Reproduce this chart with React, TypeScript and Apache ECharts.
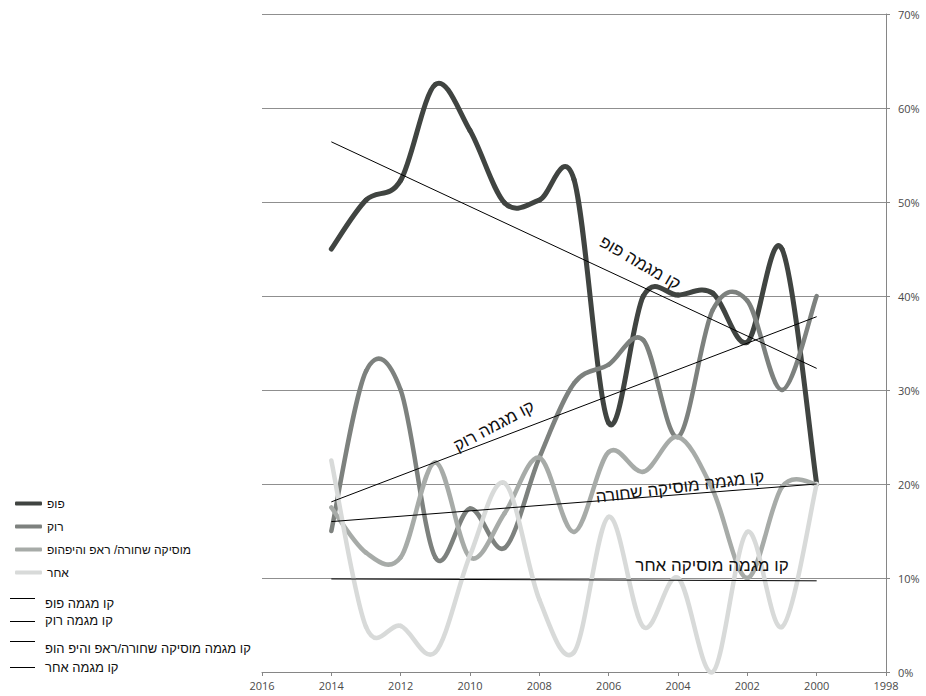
import React, { useEffect, useRef } from "react";
import * as echarts from "echarts";

const years = [2014, 2013, 2012, 2011, 2010, 2009, 2008, 2007, 2006, 2005, 2004, 2003, 2002, 2001, 2000];
const popValues = [45.0, 50.2, 52.3, 62.5, 57.6, 49.9, 50.2, 52.4, 26.5, 40.0, 40.1, 40.3, 35.1, 45.0, 20.0];
const rockValues = [15.0, 32.0, 30.0, 12.2, 17.4, 13.2, 22.8, 30.7, 32.7, 35.3, 25.0, 38.5, 39.5, 30.0, 40.0];
const blackValues = [17.5, 12.7, 12.2, 22.3, 12.2, 16.9, 22.8, 14.9, 23.4, 21.3, 25.0, 19.4, 10.0, 19.7, 20.0];
const otherValues = [22.5, 4.8, 4.9, 2.1, 12.4, 20.1, 7.7, 2.1, 16.5, 4.8, 10.0, 0.0, 14.9, 4.8, 20.0];

const trendYears = [2014, 2000];
const popTrend = [56.4, 32.3];
const rockTrend = [18.1, 37.8];
const blackTrend = [16.0, 20.0];
const otherTrend = [9.9, 9.7];

const seriesNames = ["פופ", "רוק", "מוסיקה שחורה/ ראפ והיפהופ", "אחר"];
const seriesColors = ["#404441", "#7d817e", "#a7aba8", "#d8dad9"];
const trendNames = ["קו מגמה פופ", "קו מגמה רוק", "קו מגמה מוסיקה שחורה/ראפ והיפ הופ", "קו מגמה אחר"];
const trendLabels = ["קו מגמה פופ", "קו מגמה רוק", "קו מגמה מוסיקה שחורה", "קו מגמה מוסיקה אחר"];

const FONT = "'Liberation Sans', Arial, 'DejaVu Sans', sans-serif";
const AXIS_FONT = "'Open Sans', 'Noto Sans', sans-serif";

function pairs(xs: number[], ys: number[]) {
  return xs.map((x, i) => [x, ys[i]]);
}

function splineSeries(name: string, values: number[], color: string, width: number, z: number) {
  const n = years.length;
  return {
    name,
    type: "custom",
    z,
    data: pairs(years, values),
    encode: { x: 0, y: 1 },
    itemStyle: { color },
    renderItem: (params: any, api: any) => {
      const i = params.dataIndex;
      if (i >= n - 1) return { type: "group", children: [] };
      const pt = (k: number) => api.coord([years[k], values[k]]);
      const p0 = pt(Math.max(0, i - 1));
      const p1 = pt(i);
      const p2 = pt(i + 1);
      const p3 = pt(Math.min(n - 1, i + 2));
      const t = 1 / 6;
      return {
        type: "bezierCurve",
        shape: {
          x1: p1[0], y1: p1[1],
          x2: p2[0], y2: p2[1],
          cpx1: p1[0] + (p2[0] - p0[0]) * t,
          cpy1: p1[1] + (p2[1] - p0[1]) * t,
          cpx2: p2[0] - (p3[0] - p1[0]) * t,
          cpy2: p2[1] - (p3[1] - p1[1]) * t,
        },
        style: { stroke: color, lineWidth: width, lineCap: "round", fill: null },
      };
    },
  };
}

export default function App() {
  const ref = useRef<HTMLDivElement>(null);
  useEffect(() => {
    if (!ref.current) return;
    const chart = echarts.init(ref.current, null, { renderer: "svg" });
    const mainData = [popValues, rockValues, blackValues, otherValues];
    const widths = [5, 4.5, 4.5, 4.5];
    const trends = [popTrend, rockTrend, blackTrend, otherTrend];

    const legendLineY = [598.5, 621.5, 641.5, 667.5];
    const legendTextY = [603, 620, 648, 667];

    const option: any = {
      animation: false,
      backgroundColor: "#ffffff",
      grid: { left: 262, right: 40, top: 14, bottom: 24, containLabel: false },
      xAxis: {
        type: "value",
        min: 1998,
        max: 2016,
        interval: 2,
        inverse: true,
        axisLine: { show: true, lineStyle: { color: "#868686", width: 1 } },
        axisTick: { show: true, length: 4, lineStyle: { color: "#868686" } },
        axisLabel: { color: "#4a4a4a", fontSize: 11, fontFamily: AXIS_FONT, margin: 8, formatter: (v: number) => String(v) },
        splitLine: { show: false },
      },
      yAxis: {
        type: "value",
        position: "right",
        min: 0,
        max: 70,
        interval: 10,
        axisLine: { show: true, lineStyle: { color: "#868686", width: 1 } },
        axisTick: { show: true, length: 4, lineStyle: { color: "#868686" } },
        axisLabel: { color: "#4a4a4a", fontSize: 11, fontFamily: AXIS_FONT, margin: 12, formatter: "{value}%" },
        splitLine: { show: true, lineStyle: { color: "#8f8f8f", width: 1 } },
      },
      legend: {
        orient: "vertical",
        left: 10,
        top: 487,
        itemWidth: 27,
        itemHeight: 4,
        itemGap: 0,
        icon: "roundRect",
        data: seriesNames,
        textStyle: { fontFamily: FONT, fontSize: 12, color: "#111", lineHeight: 23 },
      },
      series: [
        ...seriesNames.map((name, i) => splineSeries(name, mainData[i], seriesColors[i], widths[i], 2 + i)),
        ...trendNames.map((name, i) => ({
          name,
          type: "line",
          showSymbol: false,
          data: pairs(trendYears, trends[i]),
          lineStyle: { color: "#000", width: 1 },
          itemStyle: { color: "#000" },
          z: 10,
        })),
      ],
      graphic: [
        ...trendNames.map((name, i) => ({
          type: "line",
          shape: { x1: 10, y1: legendLineY[i], x2: 35, y2: legendLineY[i] },
          style: { stroke: "#000", lineWidth: 1 },
        })),
        ...trendNames.map((name, i) => ({
          type: "text",
          x: 45,
          y: legendTextY[i],
          style: { text: name, font: `13px ${FONT}`, fill: "#111", verticalAlign: "middle", align: "left" },
        })),
        {
          type: "text", x: 640, y: 263, rotation: -30 * Math.PI / 180, z: 20,
          style: { text: trendLabels[0], font: `17px ${FONT}`, fill: "#111", align: "center", verticalAlign: "middle" },
        },
        {
          type: "text", x: 494, y: 426, rotation: 28 * Math.PI / 180, z: 20,
          style: { text: trendLabels[1], font: `17px ${FONT}`, fill: "#111", align: "center", verticalAlign: "middle" },
        },
        {
          type: "text", x: 680, y: 487, rotation: 7 * Math.PI / 180, z: 20,
          style: { text: trendLabels[2], font: `17px ${FONT}`, fill: "#111", align: "center", verticalAlign: "middle" },
        },
        {
          type: "text", x: 712, y: 565, rotation: 0, z: 20,
          style: { text: trendLabels[3], font: `17px ${FONT}`, fill: "#111", align: "center", verticalAlign: "middle" },
        },
      ],
    };
    chart.setOption(option);
    return () => chart.dispose();
  }, []);
  return <div ref={ref} style={{ width: 926, height: 696, position: "absolute", left: 0, top: 0 }} />;
}
